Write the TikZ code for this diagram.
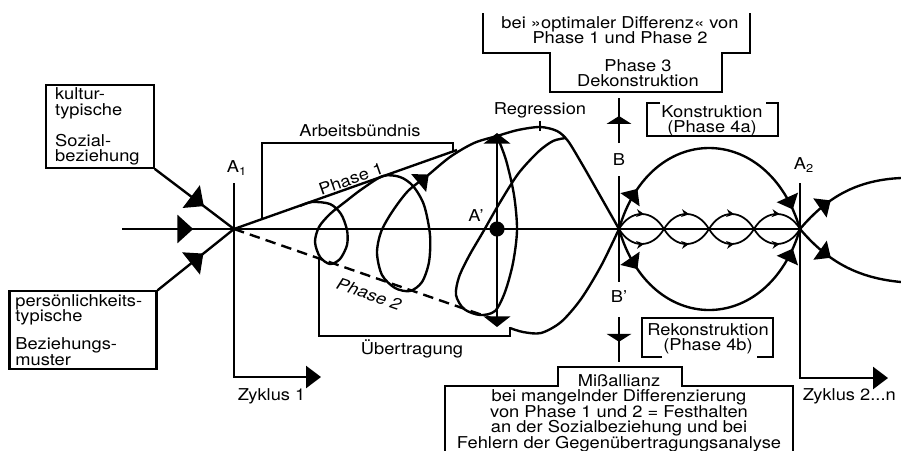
\documentclass[tikz,border=0pt]{standalone}
\usepackage{fontspec}
\setmainfont{TeX Gyre Heros}[FakeStretch=1.12]
\usetikzlibrary{arrows.meta,decorations.markings}
\newcommand{\lblfont}{\fontsize{9.3}{8.8}\selectfont\lineskiplimit=-20pt\relax}
\tikzset{
  bigtri/.tip={Triangle[length=9pt,width=16pt]},
  midtri/.tip={Triangle[length=7.5pt,width=13pt]},
  cyctri/.tip={Triangle[length=8.5pt,width=12.5pt]},
  vtri/.tip={Triangle[length=6pt,width=15pt]},
  flattri/.tip={Triangle[length=4.5pt,width=14pt]},
  smalltri/.tip={Stealth[length=4.5pt,width=4.5pt]},
  mainline/.style={line width=1.35pt},
  lensline/.style={line width=1pt},
  framebox/.style={draw, line width=1.2pt, inner ysep=0pt, align=left},
  tag/.style={inner sep=1pt},
  midtip/.style 2 args={postaction={decorate,
    decoration={markings, mark=at position #1 with {\arrow{#2}}}}}
}
\begin{document}
\begin{tikzpicture}[x=0.02cm, y=-0.02cm, font=\lblfont, mainline]
  \useasboundingbox (0,0) rectangle (901,450);
  % points on the axis
  \coordinate (axL) at (122,229);
  \coordinate (A1) at (234,229);
  \coordinate (Ap) at (497,229);
  \coordinate (B) at (619,229);
  \coordinate (A2) at (800,229);
  \foreach \i/\x in {1/664,2/709,3/754}
    \coordinate (L\i) at (\x,229);
  \coordinate (T) at (497,133);
  \coordinate (Tb) at (497,327);
  \coordinate (P1) at (457,150);
  \coordinate (P2) at (491,318);

  % input boxes
  \node[framebox, minimum width=61pt, minimum height=47pt, text width=51pt] (kult) at (100,126.5)
    {kultur-\\typische\\[8.8pt]Sozial-\\beziehung};
  \node[framebox, minimum width=83pt, minimum height=44pt, text width=77pt] (pers) at (83,330)
    {persönlichkeits-\\typische\\[7pt]Beziehungs-\\muster};
  \draw[midtip={0.62}{bigtri}] (kult.south east) -- (A1);
  \draw[midtip={0.6}{bigtri}] (pers.north east) -- (A1);
  \draw[midtip={0.105}{bigtri}] (axL) -- (A2);

  % cycle axes
  \coordinate (A1t) at (234,183);
  \coordinate (A1b) at (234,377);
  \coordinate (Z1) at (321,377);
  \draw[-cyctri] (A1t) -- (A1b) -- (Z1);
  \node[tag] (a1) at (237,168) {A\textsubscript{1}};
  \node[tag, anchor=west] (z1) at (235,396) {Zyklus 1};
  \coordinate (A2t) at (800,183);
  \coordinate (A2b) at (800,378);
  \coordinate (Z2) at (888,378);
  \draw[-cyctri] (A2t) -- (A2b) -- (Z2);
  \node[tag] (a2) at (804,165) {A\textsubscript{2}};
  \node[tag, anchor=west] (z2) at (800,396) {Zyklus 2...n};

  % phase lines
  \draw (A1) -- (P1);
  \draw[dash pattern=on 6pt off 3.5pt] (A1) -- (P2);
  \node[tag, rotate=19.5] (ph1) at (351,179) {Phase 1};
  \node[tag, rotate=-19, font=\lblfont\itshape] (ph2) at (369,294) {Phase 2};

  % brackets
  \draw (262,218) -- (262,143) -- (453,143) -- (453,152);
  \node[tag] (arb) at (360,131) {Arbeitsbündnis};
  \draw (319,259) -- (319,336) -- (510,336) -- (510,327);
  \node[tag] (uebt) at (412,349) {Übertragung};

  % spiral
  \draw[midtip={0.675}{midtri}] plot[smooth] coordinates {
    (300,206) (312,202) (330,204) (341,214) (347,230) (347,245) (340,259)
    (330,264) (320,257) (315,242) (319,227) (330,214) (345,202) (362,189)
    (383,176) (400,177) (413,186) (424,205) (430,235) (429,262) (422,282)
    (410,291) (395,288) (382,275) (377,253) (381,232) (392,212) (408,191)
    (427,176) (450,157) (474,143) (497,136) (518,130) (540,127) (557,131)
    (568,141) (582,164) (598,192) (619,229)};
  \draw plot[smooth] coordinates {
    (497,136) (506,160) (514,195) (517,230) (513,263) (505,292) (495,311)
    (480,315) (464,309) (456,295) (459,277) (469,256) (483,232) (499,204)
    (518,174) (538,152) (553,141) (566,138)};
  \draw plot[smooth] coordinates {
    (619,229) (601,266) (581,299) (561,322) (541,333) (523,332) (510,328)};

  % amplitude at A'
  \draw[vtri-vtri] (T) -- (Tb);
  \fill (Ap) circle (4.3pt);
  \node[tag] (apl) at (476,216) {A'};
  \node[tag] (reg) at (540,110) {Regression};
  \draw[line width=0.8pt] (reg.south) -- ++(0,10);

  % top box
  \draw (483,13) -- (483,53) -- (550,53) -- (550,92) -- (722,92) -- (722,53) -- (750,53) -- (750,13);
  \node[tag, align=center] (opt) at (620,30) {bei »optimaler Differenz« von\\Phase 1 und Phase 2};
  \node[tag, align=center] (dek) at (638,73) {Phase 3\\Dekonstruktion};

  % vertical through B
  \coordinate (Bu1) at (619,143);
  \coordinate (Bu2) at (619,98);
  \coordinate (Bm1) at (619,176);
  \coordinate (Bm2) at (619,282);
  \coordinate (Bd1) at (619,317);
  \coordinate (Bd2) at (619,362);
  \draw[midtip={0.6}{flattri}] (Bu1) -- (Bu2);
  \draw (Bm1) -- (Bm2);
  \draw[midtip={0.55}{flattri}] (Bd1) -- (Bd2);
  \node[tag] (bl) at (619,160) {B};
  \node[tag] (bpl) at (619,297) {B'};

  % Konstruktion / Rekonstruktion
  \draw (660,103) -- (647,103) -- (647,136) -- (778,136) -- (778,103) -- (766,103);
  \node[tag, align=center] (kon) at (712,121) {Konstruktion\\(Phase 4a)};
  \draw (662,357) -- (642,357) -- (642,318) -- (773,318) -- (773,357) -- (757,357);
  \node[tag, align=center] (rek) at (708,339) {Rekonstruktion\\(Phase 4b)};

  % Missallianz
  \draw (445,452) -- (445,386) -- (558,386) -- (558,367) -- (682,367) -- (682,386) -- (793,386) -- (793,452);
  \node[tag, align=center] (miss) at (619,413) {Mißallianz\\bei mangelnder Differenzierung\\von Phase 1 und 2 = Festhalten\\an der Sozialbeziehung und bei\\Fehlern der Gegenübertragungsanalyse};

  % phase 4 arcs
  \draw[midtip={0.17}{midtri}, midtip={0.92}{midtri}] (B) .. controls (650,121) and (768,121) .. (A2);
  \draw[midtip={0.17}{midtri}, midtip={0.92}{midtri}] (B) .. controls (650,337) and (768,337) .. (A2);
  \foreach \a/\b in {B/L1, L1/L2, L2/L3, L3/A2} {
    \draw[lensline, midtip={0.55}{smalltri}] (\a) .. controls +(12,-20) and +(-12,-20) .. (\b);
    \draw[lensline, midtip={0.55}{smalltri}] (\a) .. controls +(12,20) and +(-12,20) .. (\b);
  }

  % next cycle
  \coordinate (R1) at (901,178);
  \coordinate (R2) at (901,282);
  \draw[midtip={0.36}{midtri}] (A2) .. controls (828,196) and (858,180) .. (R1);
  \draw[midtip={0.36}{midtri}] (A2) .. controls (828,262) and (858,278) .. (R2);
\end{tikzpicture}
\end{document}
